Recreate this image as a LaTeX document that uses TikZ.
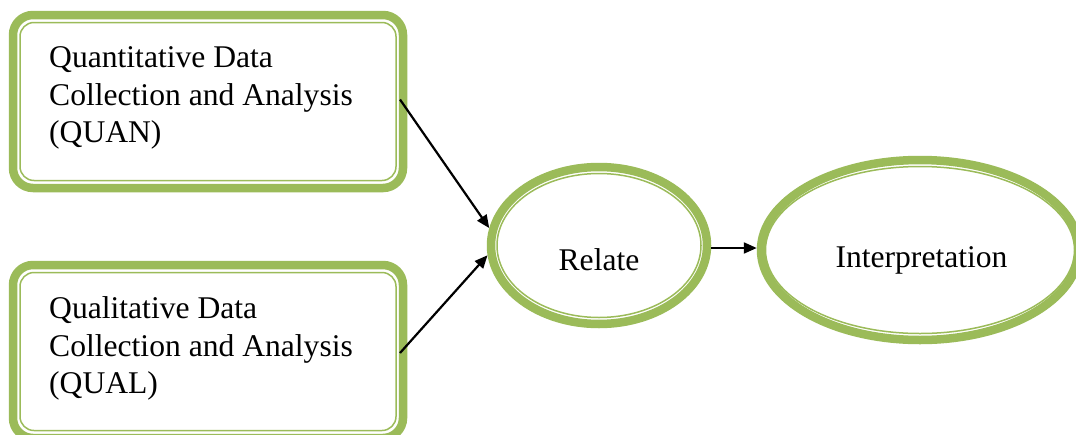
\documentclass[tikz,border=0pt]{standalone}
\usepackage{fontspec}
\setmainfont{Liberation Serif}
\usetikzlibrary{arrows.meta,shapes.geometric}
\definecolor{olive}{HTML}{9BBB59}
\tikzset{
  boxthick/.style={draw=olive, line width=8.5pt, rounded corners=20pt, rectangle, inner sep=0pt, outer sep=0pt},
  boxthin/.style={draw=olive, line width=1.5pt, rounded corners=14pt, rectangle, inner sep=0pt, outer sep=0pt},
  ellthick/.style={draw=olive, line width=8.5pt, ellipse, inner sep=0pt, outer sep=4.25pt},
  ellthin/.style={draw=olive, line width=1.5pt, ellipse, inner sep=0pt, outer sep=0pt},
  txt/.style={font=\fontsize{31.6}{37.5}\selectfont, inner sep=0pt, align=left},
  arr/.style={line width=2.2pt, -{Triangle[length=13pt,width=11pt]}}
}
\begin{document}
\begin{tikzpicture}[x=1pt,y=-1pt]
\useasboundingbox (0,0) rectangle (1076,434);
\clip (0,0) rectangle (1076,434);
% box 1
\node[boxthick, minimum width=390pt, minimum height=173pt] (q1) at (208,101.5) {};
\node[boxthin, minimum width=376pt, minimum height=158pt] (q1i) at (q1.center) {};
\node[txt, anchor=north west] (q1t) at (49,46.5) {Quantitative Data\\Collection and Analysis\\(QUAN)};
% box 2
\node[boxthick, minimum width=390pt, minimum height=173pt] (q2) at (208,351.5) {};
\node[boxthin, minimum width=376pt, minimum height=158pt] (q2i) at (q2.center) {};
\node[txt, anchor=north west] (q2t) at (49,296.5) {Qualitative Data\\Collection and Analysis\\(QUAL)};
% relate
\node[ellthick, minimum width=216pt, minimum height=157pt] (r) at (599,245.5) {};
\node[ellthin, minimum width=204pt, minimum height=144pt] (ri) at (r.center) {};
\node[txt, anchor=base] (rt) at (599,270) {Relate};
% interpretation
\node[ellthick, minimum width=318pt, minimum height=180pt] (i) at (920,250) {};
\node[ellthin, minimum width=309pt, minimum height=167pt] (ii) at (i.center) {};
\node[txt, anchor=base] (it) at (921.5,267) {Interpretation};
% connectors
\draw[arr] ([xshift=-3pt,yshift=2pt]q1.east) -- (r.171);
\draw[arr] ([xshift=-3pt,yshift=-1.5pt]q2.east) -- (r.185);
\draw[arr] ([yshift=-2.5pt]r.east) -- ([yshift=-2.5pt]r.east -| i.west);
\end{tikzpicture}
\end{document}
